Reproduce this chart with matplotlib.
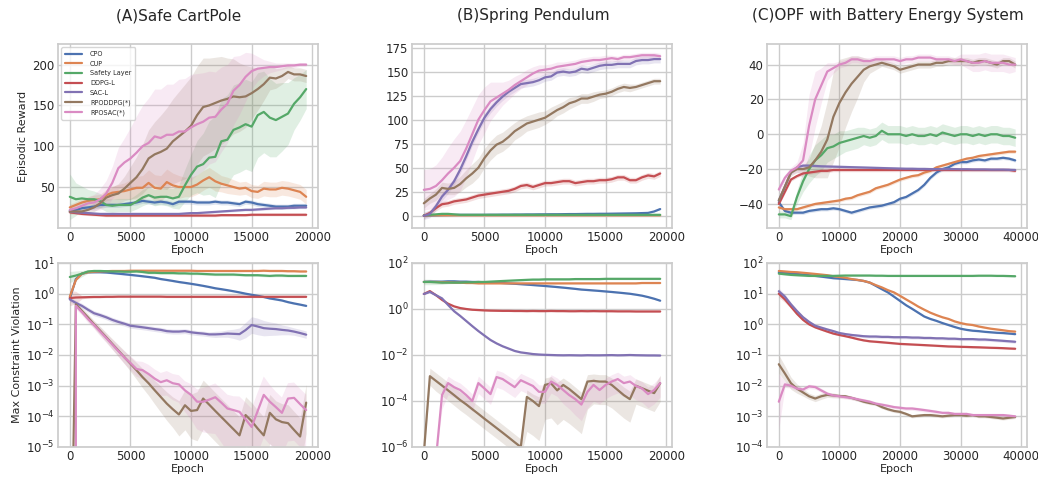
import numpy as np
import matplotlib
matplotlib.use("Agg")
import matplotlib.pyplot as plt
import seaborn as sns

sns.set_theme(style="whitegrid")
plt.rcParams['font.family'] = ['DejaVu Sans']

# ---------------- data ----------------
methods = ["CPO", "CUP", "Safety Layer", "DDPG-L", "SAC-L", "RPODDPG(*)", "RPOSAC(*)"]
titles = ["(A)Safe CartPole", "(B)Spring Pendulum", "(C)OPF with Battery Energy System"]

epochs_AB = list(range(0, 20000, 500))
epochs_C = list(range(0, 40000, 1000))

# ---- (A) top: episodic reward ----
cpo_A = [21,22,24,25,26,28,28,28,28,29,30,31,33,32,31,32,31,29,32,32,32,31,31,31,32,31,31,30,29,32,31,29,28,27,26,26,26,27,27,27]
cup_A = [25,28,31,33,34,35,40,43,44,45,47,49,49,55,49,48,56,52,50,50,50,53,58,62,57,54,52,50,48,49,45,44,48,47,47,49,48,46,44,38]
sl_A = [38,35,36,35,35,33,28,27,28,28,28,32,37,40,37,38,38,36,38,52,65,75,78,86,87,106,108,120,123,127,124,138,142,135,132,136,140,152,160,170]
ddpg_A = [19,18,17,16.5,16,15.5,15,15,15,15,15,15,15,15,15,15,15,15,15,15,15,15,15,15,15,15.5,15.5,15.5,15.5,15.5,16,16,16,16,16,16,16,16,16,16]
sac_A = [20,19,18.5,18,17.5,17,17,17,17,17,17,17,17,17,17,17,17,17,17,17.5,18,18,18.5,19,19.5,20,20.5,21,21.5,22,22,22.5,23,23.5,24,24,24.5,24.5,25,25]
rpoddpg_A = [20,20,20,22,25,30,37,40,42,48,55,62,72,85,90,93,97,106,112,118,125,138,148,150,153,156,158,161,160,161,165,170,176,184,183,186,191,188,188,186]
rposac_A = [22,24,27,30,31,35,42,55,73,80,85,92,100,104,112,110,114,114,118,118,123,127,130,135,136,145,152,168,175,185,192,195,196,197,197,198,199,199,200,200]
cpo_A_sd = 3
cup_A_sd = [4,4,5,5,6,6,7,8,9,10,12,14,15,16,16,16,16,15,14,12,12,12,12,12,12,10,10,9,8,8,8,8,9,9,9,9,9,9,9,9]
sl_A_sd = [28,20,15,12,10,9,8,8,8,8,8,9,10,10,10,10,11,12,15,20,25,32,38,45,50,52,55,55,55,55,55,52,50,48,45,42,38,32,28,24]
ddpg_A_sd = 1.5
sac_A_sd = 1.5
rpoddpg_A_sd = [3,3,3,4,5,6,8,10,12,15,20,25,30,35,40,45,50,52,55,58,60,60,60,58,56,54,50,46,42,38,32,26,20,15,12,10,8,8,8,8]
rposac_A_sd = [5,5,6,8,10,13,16,20,25,30,38,45,50,55,58,60,62,62,64,65,65,62,60,57,55,52,48,42,36,30,22,15,10,7,5,4,3,3,2,2]

# ---- (B) top ----
cpo_B = [0,0.3,0.5,0.7,0.8,0.9,1,1,1,1,1,1.1,1.1,1.2,1.2,1.3,1.3,1.4,1.4,1.5,1.5,1.6,1.6,1.7,1.8,1.8,1.9,2,2,2.1,2.1,2.2,2.3,2.4,2.5,2.6,2.8,3,4.5,7]
cup_B = [0.3,0.5,0.5,0.5,0.5,0.5,0.5,0.5,0.5,0.5,0.5,0.5,0.5,0.5,0.5,0.5,0.5,0.5,0.5,0.5,0.5,0.5,0.5,0.5,0.5,0.5,0.5,0.5,0.5,0.5,0.5,0.5,0.5,0.5,0.5,0.5,0.5,0.5,0.5,0.5]
sl_B = [0.5,1,1.5,2,2,1.5,1,1,1,1,1,1,1,1,1,1,1,1,1,1,1,1,1,1,1,1,1,1,1,1,1,1,1,1,1,1,1,1,1,1]
ddpg_B = [0,3,8,12,13,15,16,17,19,21,22,23,24,25,26,28,31,32,30,32,34,34,35,36,36,34,35,36,36,37,37,38,40,40,37,37,40,42,41,44]
sac_B = [0,2,10,20,27,36,48,62,77,90,102,111,118,124,129,133,137,138,139,141,144,145,149,150,149,150,153,152,154,156,157,157,158,158,158,161,162,162,163,163]
rpoddpg_B = [13,18,22,29,28,29,33,39,44,50,60,68,74,77,82,88,92,96,98,100,102,106,110,113,117,119,122,122,124,126,127,129,132,134,133,134,136,138,140,140]
rposac_B = [27,28,31,37,44,50,57,70,85,100,110,119,123,127,131,136,140,144,148,151,152,153,155,156,157,158,160,161,162,162,163,164,163,165,165,166,167,167,167,166]
cpo_B_sd = 0.5
cup_B_sd = 0.3
sl_B_sd = 0.5
ddpg_B_sd = 3
sac_B_sd = 4
rpoddpg_B_sd = [5,5,6,6,6,7,8,9,10,10,10,10,10,10,10,9,9,8,8,8,7,7,6,6,6,5,5,5,5,4,4,4,4,4,4,3,3,3,3,3]
rposac_B_sd = [21,21,22,24,27,30,31,30,28,26,24,20,16,12,10,9,8,8,7,6,5,5,5,4,4,4,4,4,4,4,4,3,3,3,3,3,3,3,3,3]

# ---- (C) top ----
cpo_C = [-39,-44,-45,-45,-45,-44,-43.5,-43,-43,-42.5,-43,-44,-45,-44,-43,-42,-41.5,-41,-40,-39,-37,-36,-34,-32,-29,-25,-22,-20,-19,-17,-16,-16,-15,-14.5,-15,-14,-14,-13.5,-14,-15]
cup_C = [-42,-43,-43,-43,-42,-41,-40,-39.5,-39,-38.5,-38,-37,-36.5,-35,-34,-33,-31,-30,-29,-27.5,-26,-25,-24,-23.5,-22,-21,-19,-18,-17,-16,-15,-14,-13.5,-12.5,-12,-11.5,-11,-10.5,-10,-10]
sl_C = [-46,-46,-47,-36,-27,-20,-15,-12,-8,-7,-5,-4,-3,-2,-1,-2,-1,2,0,0,0,-1,0,-1,-1,0,-1,1,0,-1,0,0,-1,0,-1,0,0,-1,-1,-2]
ddpg_C = [-40,-33,-26,-24,-22.5,-22,-21.5,-21,-21,-20.5,-20.5,-20.5,-20.5,-20.5,-20.5,-20.5,-20.5,-20.5,-20.5,-20.5,-20.5,-20.5,-20.5,-20.5,-20.5,-20.5,-20.5,-20.5,-20.5,-20.5,-20.5,-20.5,-20.5,-20.5,-20.5,-20.5,-20.5,-20.5,-20.5,-21]
sac_C = [-38,-30,-22,-19,-18,-18,-18.2,-18.4,-18.5,-18.6,-18.7,-18.8,-18.9,-19,-19.1,-19.2,-19.3,-19.4,-19.5,-19.6,-19.7,-19.8,-19.8,-19.9,-19.9,-20,-20,-20,-20,-20,-20.1,-20.1,-20.2,-20.2,-20.2,-20.3,-20.3,-20.3,-20.4,-20.5]
rpoddpg_C = [-38,-30,-22,-20,-20,-19,-15,-10,-3,10,18,24,29,33,37,39,40,41,40,39,37,38,39,40,40,40,41,41,42,42,42,42,41,42,42,41,40,42,42,40]
rposac_C = [-31.7,-25,-21,-19,-15,5,20,28,36,38,40,41,43,43,42,42,43,43,43,43,42,43,43,44,44,44,43,43,43,42,43,42,41,41,42,41,41,41,40,40]
cpo_C_sd = 1
cup_C_sd = 1
sl_C_sd = [2,2,2,4,6,8,9,9,8,7,7,6,6,6,5,5,5,5,5,5,5,5,5,5,5,5,5,5,5,5,5,5,5,5,5,5,5,5,5,5]
ddpg_C_sd = 1
sac_C_sd = 1
rpoddpg_C_sd = [2,2,2,2,2,5,10,15,22,26,25,20,16,12,7,4,3,2,2,2,2,2,2,2,2,2,2,2,2,2,2,2,2,2,2,2,2,2,2,2]
rposac_C_sd = [2,2,2,3,10,18,16,10,5,3,2,2,2,2,2,2,2,2,2,2,2,2,2,2,2,2,2,2,2,2,3,4,5,5,5,5,5,5,5,4]

# ---- (A) bottom: max constraint violation (log) ----
cpo_Av = [0.7,3,4.5,5,5,5,4.9,4.7,4.5,4.3,4.1,3.9,3.7,3.5,3.3,3.0,2.8,2.6,2.4,2.25,2.1,1.95,1.8,1.65,1.5,1.4,1.3,1.2,1.1,1.0,0.92,0.85,0.78,0.7,0.65,0.6,0.53,0.48,0.44,0.4]
cup_Av = [0.8,2.8,4.5,5,5.2,5.3,5.4,5.5,5.5,5.5,5.6,5.6,5.6,5.6,5.6,5.6,5.6,5.6,5.6,5.6,5.6,5.5,5.5,5.5,5.5,5.5,5.5,5.5,5.5,5.5,5.5,5.5,5.6,5.5,5.5,5.5,5.4,5.4,5.3,5.3]
sl_Av = [3.5,3.9,4.5,5.3,5.5,5.5,5.4,5.3,5.3,5.2,5.2,5.3,5.1,4.8,4.8,4.7,4.7,4.7,4.6,4.6,4.5,4.5,4.4,4.3,4.2,4.2,4.2,4.2,4.1,4.0,4.0,4.0,3.9,3.8,3.9,3.9,3.8,3.8,3.8,3.8]
ddpg_Av = [0.72,0.75,0.76,0.77,0.78,0.78,0.79,0.79,0.8,0.8,0.8,0.8,0.8,0.8,0.8,0.8,0.79,0.79,0.79,0.79,0.79,0.79,0.79,0.79,0.79,0.79,0.79,0.79,0.79,0.79,0.79,0.79,0.79,0.79,0.79,0.79,0.79,0.79,0.79,0.79]
sac_Av = [0.65,0.5,0.4,0.3,0.23,0.2,0.17,0.14,0.12,0.105,0.09,0.085,0.08,0.075,0.07,0.066,0.06,0.058,0.058,0.06,0.055,0.052,0.05,0.047,0.047,0.048,0.05,0.049,0.048,0.065,0.095,0.085,0.075,0.072,0.07,0.066,0.063,0.058,0.052,0.046]
rpoddpg_Av = [1e-12,0.45,0.274,0.167,0.10,0.062,0.038,0.023,0.014,0.0085,0.0052,0.0032,0.0019,0.0012,7.1e-4,4.3e-4,2.6e-4,1.7e-4,1.15e-4,2.3e-4,1.5e-4,1.6e-4,3.8e-4,2.4e-4,1.5e-4,9.5e-5,6e-5,3.8e-5,2.4e-5,1.1e-4,7e-5,4e-5,2.4e-5,1.3e-4,8e-5,6.5e-5,6e-5,3.6e-5,2.2e-5,2.8e-4]
rposac_Av = [0,0.4,0.25,0.15,0.095,0.058,0.036,0.022,0.0135,0.0083,0.0055,0.0035,0.0032,0.0024,0.0017,0.0013,0.0015,0.0012,0.0011,0.0007,0.0005,0.0003,0.0003,0.00035,0.00042,0.00028,0.00018,0.00016,0.00014,8e-5,4.5e-5,0.00015,0.0005,0.0003,0.0002,0.00013,0.00038,0.0004,0.00025,0.00016]
# band half-widths in decades (lower, upper)
cpo_Av_dex = 0.03
cup_Av_dex = 0.03
sl_Av_dex = [0.18,0.15,0.1,0.06,0.05,0.04,0.04,0.04,0.04,0.04,0.04,0.04,0.04,0.04,0.04,0.04,0.04,0.04,0.04,0.04,0.04,0.04,0.04,0.04,0.04,0.04,0.04,0.04,0.04,0.04,0.04,0.04,0.04,0.04,0.04,0.04,0.04,0.04,0.04,0.04]
ddpg_Av_dex = [0.25,0.2,0.05,0.03,0.03,0.03,0.03,0.03,0.03,0.03,0.03,0.03,0.03,0.03,0.03,0.03,0.03,0.03,0.03,0.03,0.03,0.03,0.03,0.03,0.03,0.03,0.03,0.03,0.03,0.03,0.03,0.03,0.03,0.03,0.03,0.03,0.03,0.03,0.03,0.03]
sac_Av_dex = [0.08,0.08,0.08,0.08,0.08,0.08,0.08,0.08,0.08,0.08,0.08,0.08,0.08,0.08,0.08,0.08,0.08,0.08,0.08,0.08,0.08,0.08,0.08,0.08,0.1,0.1,0.12,0.15,0.2,0.25,0.27,0.27,0.25,0.22,0.2,0.16,0.14,0.12,0.12,0.12]
rpoddpg_Av_lo = [0,0.1,0.1,0.12,0.12,0.14,0.15,0.17,0.19,0.21,0.25,0.3,0.35,0.4,0.45,0.5,0.55,0.6,0.7,0.8,0.9,1.0,1.0,1.0,1.0,1.0,1.0,1.0,1.0,1.0,1.0,1.0,1.0,1.0,1.0,1.0,1.0,1.0,1.0,1.0]
rpoddpg_Av_hi = [0,0.1,0.1,0.12,0.12,0.14,0.15,0.17,0.19,0.21,0.22,0.25,0.28,0.3,0.32,0.35,0.38,0.4,0.45,0.5,0.55,0.6,0.6,0.6,0.6,0.6,0.6,0.6,0.6,0.6,0.6,0.6,0.6,0.6,0.6,0.6,0.6,0.6,0.6,0.6]
rposac_Av_lo = [0,0.1,0.1,0.12,0.12,0.14,0.15,0.16,0.18,0.2,0.22,0.25,0.3,0.35,0.4,0.45,0.5,0.55,0.6,0.7,0.8,0.9,1.0,1.1,1.2,1.3,1.4,1.4,1.4,1.4,1.4,1.4,1.4,1.4,1.4,1.4,1.4,1.4,1.4,1.4]
rposac_Av_hi = [0,0.1,0.1,0.12,0.12,0.14,0.15,0.16,0.18,0.2,0.22,0.25,0.27,0.3,0.3,0.3,0.3,0.3,0.3,0.3,0.35,0.4,0.45,0.45,0.45,0.45,0.45,0.45,0.5,0.55,0.6,0.6,0.6,0.55,0.5,0.5,0.5,0.5,0.5,0.5]

# ---- (B) bottom ----
cpo_Bv = [15,15.5,15.5,15.5,16,16,15.5,15.5,15,15,14.5,14,14,13.5,13,12.5,12,11.5,11,10.5,10,9.5,9,8.5,8,7.5,7,6.7,6.4,6.1,5.8,5.5,5.2,4.9,4.6,4.2,3.8,3.3,2.8,2.3]
cup_Bv = [15,15,15,14.5,14.5,14,14,13.5,13.5,13,13,13,13,13,13,13,13,13,13,13,13,13,13,13,13,13,13,13,13,13,13,13,13,13,13,13,13.5,13.5,13.5,13.5]
sl_Bv = [15,15,14.5,14,14,14,14,14.5,14.5,15,15,15.5,16,16.5,17,17.5,18,18.5,19,19,19.5,19.5,19.5,19.5,19.5,20,20,20,20,20,20.5,20.5,20.5,20.5,20.5,20.5,20.5,20.5,20.5,20.5]
ddpg_Bv = [4.5,6,4,2.5,1.7,1.3,1.1,1.0,0.93,0.9,0.87,0.85,0.84,0.83,0.83,0.82,0.82,0.81,0.82,0.81,0.81,0.82,0.81,0.81,0.8,0.8,0.81,0.8,0.81,0.8,0.8,0.8,0.79,0.79,0.79,0.78,0.78,0.78,0.78,0.78]
sac_Bv = [4.5,5.5,4,2.9,1.5,0.8,0.5,0.3,0.18,0.11,0.07,0.045,0.032,0.024,0.019,0.015,0.013,0.012,0.011,0.0105,0.0102,0.01,0.0098,0.0097,0.0098,0.0097,0.0096,0.0098,0.0097,0.0097,0.0098,0.0099,0.0097,0.0098,0.01,0.0098,0.0097,0.0096,0.0096,0.0095]
rpoddpg_Bv = [5e-7,1.2e-3,7.5e-4,4.7e-4,2.9e-4,1.8e-4,1.1e-4,7.1e-5,4.4e-5,2.75e-5,1.7e-5,1.07e-5,6.7e-6,4.2e-6,2.6e-6,1.6e-6,1e-6,1.5e-4,1e-4,6e-5,5e-4,5.8e-4,2.9e-4,5e-4,3.3e-4,2e-4,1.2e-4,7e-4,7.5e-4,7e-4,7e-4,5e-4,3e-4,1.8e-4,1.2e-4,4.6e-4,3.6e-4,2.8e-4,2.2e-4,5.9e-4]
rposac_Bv = [1e-8,1e-8,3e-7,1.8e-4,6e-4,4e-4,3e-4,1.8e-4,1e-4,6e-4,3.5e-4,2e-4,1.1e-3,9e-4,6e-4,4e-4,8e-4,6e-4,4.5e-4,2.5e-4,2.5e-4,7e-4,5e-4,3e-4,1.8e-4,1.2e-4,7e-5,2.5e-4,5e-4,3e-4,5e-4,7e-4,9e-4,6e-4,7e-4,4.5e-4,3.5e-4,2e-4,3e-4,6e-4]
cpo_Bv_dex = 0.03
cup_Bv_dex = 0.03
sl_Bv_dex = [0.12,0.12,0.1,0.08,0.05,0.04,0.04,0.04,0.04,0.04,0.04,0.04,0.04,0.04,0.04,0.04,0.04,0.04,0.04,0.04,0.04,0.04,0.04,0.04,0.04,0.04,0.04,0.04,0.04,0.04,0.04,0.04,0.04,0.04,0.04,0.04,0.04,0.04,0.04,0.04]
ddpg_Bv_dex = 0.03
sac_Bv_dex = 0.04
rpoddpg_Bv_lo = [0,0.4,0.45,0.45,0.45,0.45,0.45,0.45,0.45,0.45,0.45,0.45,0.45,0.45,0.45,0.45,0.45,1.5,1.5,1.5,1.5,1.5,1.5,1.5,1.5,1.5,1.5,1.2,1.0,1.0,1.0,1.0,1.0,1.0,1.0,0.8,0.8,0.8,0.8,0.8]
rpoddpg_Bv_hi = [0,0.35,0.35,0.35,0.35,0.35,0.35,0.35,0.35,0.35,0.35,0.35,0.35,0.35,0.35,0.35,0.35,0.3,0.3,0.4,0.3,0.3,0.35,0.3,0.3,0.3,0.3,0.3,0.3,0.3,0.3,0.3,0.35,0.35,0.35,0.3,0.3,0.3,0.3,0.35]
rposac_Bv_lo = [0,0,0,0.6,0.5,0.45,0.45,0.45,0.45,0.45,0.45,0.45,0.45,0.45,0.45,0.45,0.45,0.45,0.5,0.5,0.5,0.5,0.5,0.6,0.6,0.7,0.7,0.7,0.7,0.6,0.6,0.6,0.6,0.6,0.6,0.6,0.6,0.6,0.6,0.6]
rposac_Bv_hi = [0,0,0,0.3,0.3,0.3,0.3,0.3,0.3,0.3,0.3,0.3,0.3,0.3,0.3,0.3,0.3,0.3,0.3,0.3,0.3,0.3,0.3,0.3,0.3,0.3,0.3,0.3,0.3,0.3,0.3,0.3,0.3,0.3,0.3,0.3,0.3,0.3,0.3,0.3]

# ---- (C) bottom ----
cpo_Cv = [50,48,46,44,42,40,38,36,34,32,31,30,29,28,26,23,18,14,11,8,5.8,4.2,3.2,2.4,1.8,1.5,1.3,1.1,0.95,0.82,0.72,0.66,0.62,0.6,0.57,0.55,0.53,0.52,0.5,0.48]
cup_Cv = [55,53,51,50,48,46,44,42,40,37,35,33,30,28,26,23,19,16,13,11,8.5,6.5,5,3.8,3.0,2.4,2.0,1.7,1.5,1.25,1.1,1.0,0.95,0.85,0.78,0.72,0.68,0.64,0.6,0.58]
sl_Cv = [45,43,41,40,39,38,38,38,38,38,38.5,39,39,39,39,39,38.5,38.5,38,38,38,38,38,38,38,38,38,38,38,38,38,38,38,38.5,38.5,38.5,38,38,37.5,37]
ddpg_Cv = [10,6.5,3.8,2.2,1.4,1.0,0.8,0.68,0.58,0.5,0.45,0.41,0.37,0.33,0.3,0.28,0.27,0.26,0.25,0.24,0.23,0.225,0.22,0.215,0.21,0.205,0.2,0.195,0.19,0.188,0.185,0.183,0.18,0.178,0.175,0.172,0.17,0.167,0.163,0.16]
sac_Cv = [12,8,4.5,2.7,1.7,1.2,0.9,0.78,0.68,0.6,0.52,0.48,0.45,0.43,0.41,0.4,0.4,0.39,0.39,0.38,0.38,0.38,0.37,0.37,0.36,0.36,0.35,0.35,0.34,0.34,0.33,0.33,0.33,0.32,0.32,0.31,0.3,0.29,0.28,0.27]
rpoddpg_Cv = [0.05,0.025,0.012,0.008,0.006,0.0045,0.0038,0.0045,0.005,0.0048,0.0046,0.0045,0.004,0.0035,0.003,0.0027,0.0025,0.002,0.0017,0.0015,0.0014,0.0012,0.001,0.00105,0.0011,0.0011,0.00105,0.001,0.00105,0.0011,0.0011,0.00105,0.0011,0.001,0.001,0.00095,0.0009,0.00085,0.0009,0.00095]
rposac_Cv = [0.003,0.011,0.01,0.008,0.0075,0.0095,0.009,0.007,0.0055,0.0048,0.0045,0.0042,0.004,0.0036,0.0033,0.003,0.0026,0.0024,0.0022,0.002,0.0019,0.0018,0.0018,0.0017,0.0016,0.0015,0.0014,0.0013,0.0013,0.0012,0.0012,0.0012,0.0011,0.0011,0.0011,0.0011,0.0011,0.0011,0.00105,0.001]
cpo_Cv_dex = 0.03
cup_Cv_dex = 0.03
sl_Cv_dex = 0.03
ddpg_Cv_dex = [0.12,0.1,0.06,0.04,0.04,0.03,0.03,0.03,0.03,0.03,0.03,0.03,0.03,0.03,0.03,0.03,0.03,0.03,0.03,0.03,0.03,0.03,0.03,0.03,0.03,0.03,0.03,0.03,0.03,0.03,0.03,0.03,0.03,0.03,0.03,0.03,0.03,0.03,0.03,0.03]
sac_Cv_dex = [0.1,0.08,0.06,0.05,0.05,0.05,0.05,0.05,0.05,0.05,0.05,0.05,0.05,0.05,0.05,0.05,0.05,0.05,0.05,0.05,0.05,0.05,0.05,0.05,0.05,0.05,0.05,0.05,0.05,0.05,0.05,0.05,0.05,0.05,0.05,0.05,0.05,0.05,0.05,0.05]
rpoddpg_Cv_dex = [0.3,0.25,0.2,0.15,0.12,0.1,0.1,0.1,0.08,0.08,0.06,0.06,0.06,0.05,0.05,0.05,0.05,0.05,0.05,0.05,0.05,0.05,0.05,0.05,0.05,0.05,0.05,0.05,0.05,0.05,0.05,0.05,0.05,0.05,0.05,0.05,0.05,0.05,0.05,0.05]
rposac_Cv_dex = [0.9,0.1,0.08,0.07,0.07,0.07,0.07,0.07,0.06,0.06,0.06,0.06,0.06,0.06,0.06,0.06,0.06,0.06,0.06,0.06,0.06,0.06,0.06,0.06,0.06,0.06,0.06,0.05,0.05,0.05,0.05,0.05,0.05,0.05,0.05,0.05,0.05,0.05,0.05,0.05]

# ---------------- style ----------------
palette = sns.color_palette("deep")
colors = [palette[0], palette[1], palette[2], palette[3], palette[4], palette[5], palette[6]]
LW = 1.6
ALPHA = 0.18

W, H = 1038, 479
fig = plt.figure(figsize=(W / 100, H / 100), dpi=100)

col_left = [58, 412, 767]
col_w = 260
top_row = (44, 228)
bot_row = (263, 447)


def make_ax(ci, row):
    t, b = row
    return fig.add_axes([col_left[ci] / W, 1 - b / H, col_w / W, (b - t) / H])


def draw_linear(ax, x, means, sds):
    x = np.asarray(x, dtype=float)
    for m, s, c, lab in zip(means, sds, colors, methods):
        m = np.asarray(m, dtype=float)
        s = np.asarray(s, dtype=float) * np.ones_like(m)
        ax.fill_between(x, m - s, m + s, color=c, alpha=ALPHA, linewidth=0)
        ax.plot(x, m, color=c, lw=LW, label=lab)


def draw_log(ax, x, means, los, his):
    x = np.asarray(x, dtype=float)
    for m, lo, hi, c, lab in zip(means, los, his, colors, methods):
        m = np.asarray(m, dtype=float)
        lo = np.asarray(lo, dtype=float) * np.ones_like(m)
        hi = np.asarray(hi, dtype=float) * np.ones_like(m)
        ax.fill_between(x, m * 10 ** (-lo), m * 10 ** hi, color=c, alpha=ALPHA, linewidth=0)
        ax.plot(x, m, color=c, lw=LW, label=lab)


def style(ax):
    ax.tick_params(axis="both", which="both", labelsize=8.5, length=0, pad=2.5, colors=".15")
    ax.set_xlabel("Epoch", fontsize=8, labelpad=0.5, color=".15")
    for sp in ax.spines.values():
        sp.set_color(".8")


# ---- top row ----
axA = make_ax(0, top_row)
draw_linear(axA, epochs_AB, [cpo_A, cup_A, sl_A, ddpg_A, sac_A, rpoddpg_A, rposac_A],
            [cpo_A_sd, cup_A_sd, sl_A_sd, ddpg_A_sd, sac_A_sd, rpoddpg_A_sd, rposac_A_sd])
axA.set_ylabel("Episodic Reward", fontsize=8, color=".15", labelpad=3)
axA.set_yticks([50, 100, 150, 200])
axA.legend(loc="upper left", fontsize=4.7, frameon=True, handlelength=2.6,
           borderpad=0.6, labelspacing=0.55, handletextpad=1.2)

axB = make_ax(1, top_row)
draw_linear(axB, epochs_AB, [cpo_B, cup_B, sl_B, ddpg_B, sac_B, rpoddpg_B, rposac_B],
            [cpo_B_sd, cup_B_sd, sl_B_sd, ddpg_B_sd, sac_B_sd, rpoddpg_B_sd, rposac_B_sd])
axB.set_yticks([0, 25, 50, 75, 100, 125, 150, 175])

axC = make_ax(2, top_row)
draw_linear(axC, epochs_C, [cpo_C, cup_C, sl_C, ddpg_C, sac_C, rpoddpg_C, rposac_C],
            [cpo_C_sd, cup_C_sd, sl_C_sd, ddpg_C_sd, sac_C_sd, rpoddpg_C_sd, rposac_C_sd])
axC.set_yticks([-40, -20, 0, 20, 40])

for ax, t in zip([axA, axB, axC], titles):
    ax.set_title(t, fontsize=11, x=0.465, pad=17, color=".15")

# ---- bottom row ----
axAv = make_ax(0, bot_row)
axAv.set_yscale("log")
draw_log(axAv, epochs_AB, [cpo_Av, cup_Av, sl_Av, ddpg_Av, sac_Av, rpoddpg_Av, rposac_Av],
         [cpo_Av_dex, cup_Av_dex, sl_Av_dex, ddpg_Av_dex, sac_Av_dex, rpoddpg_Av_lo, rposac_Av_lo],
         [cpo_Av_dex, cup_Av_dex, sl_Av_dex, ddpg_Av_dex, sac_Av_dex, rpoddpg_Av_hi, rposac_Av_hi])
axAv.set_ylim(1e-5, 1e1)
axAv.set_yticks([1e-5, 1e-4, 1e-3, 1e-2, 1e-1, 1e0, 1e1])
axAv.set_ylabel("Max Constraint Violation", fontsize=8, color=".15", labelpad=3)

axBv = make_ax(1, bot_row)
axBv.set_yscale("log")
draw_log(axBv, epochs_AB, [cpo_Bv, cup_Bv, sl_Bv, ddpg_Bv, sac_Bv, rpoddpg_Bv, rposac_Bv],
         [cpo_Bv_dex, cup_Bv_dex, sl_Bv_dex, ddpg_Bv_dex, sac_Bv_dex, rpoddpg_Bv_lo, rposac_Bv_lo],
         [cpo_Bv_dex, cup_Bv_dex, sl_Bv_dex, ddpg_Bv_dex, sac_Bv_dex, rpoddpg_Bv_hi, rposac_Bv_hi])
axBv.set_ylim(1e-6, 1e2)
axBv.set_yticks([1e-6, 1e-4, 1e-2, 1e0, 1e2])

axCv = make_ax(2, bot_row)
axCv.set_yscale("log")
draw_log(axCv, epochs_C, [cpo_Cv, cup_Cv, sl_Cv, ddpg_Cv, sac_Cv, rpoddpg_Cv, rposac_Cv],
         [cpo_Cv_dex, cup_Cv_dex, sl_Cv_dex, ddpg_Cv_dex, sac_Cv_dex, rpoddpg_Cv_dex, rposac_Cv_dex],
         [cpo_Cv_dex, cup_Cv_dex, sl_Cv_dex, ddpg_Cv_dex, sac_Cv_dex, rpoddpg_Cv_dex, rposac_Cv_dex])
axCv.set_ylim(1e-4, 1e2)
axCv.set_yticks([1e-4, 1e-3, 1e-2, 1e-1, 1e0, 1e1, 1e2])

for ax in [axA, axB, axC, axAv, axBv, axCv]:
    style(ax)
for ax in [axAv, axBv, axCv]:
    ax.yaxis.set_minor_locator(matplotlib.ticker.NullLocator())
    ax.grid(True, which="major")

axA.set_xticks([0, 5000, 10000, 15000, 20000])
axB.set_xticks([0, 5000, 10000, 15000, 20000])
axAv.set_xticks([0, 5000, 10000, 15000, 20000])
axBv.set_xticks([0, 5000, 10000, 15000, 20000])
axC.set_xticks([0, 10000, 20000, 30000, 40000])
axCv.set_xticks([0, 10000, 20000, 30000, 40000])

fig.savefig("out.png", dpi=100)
